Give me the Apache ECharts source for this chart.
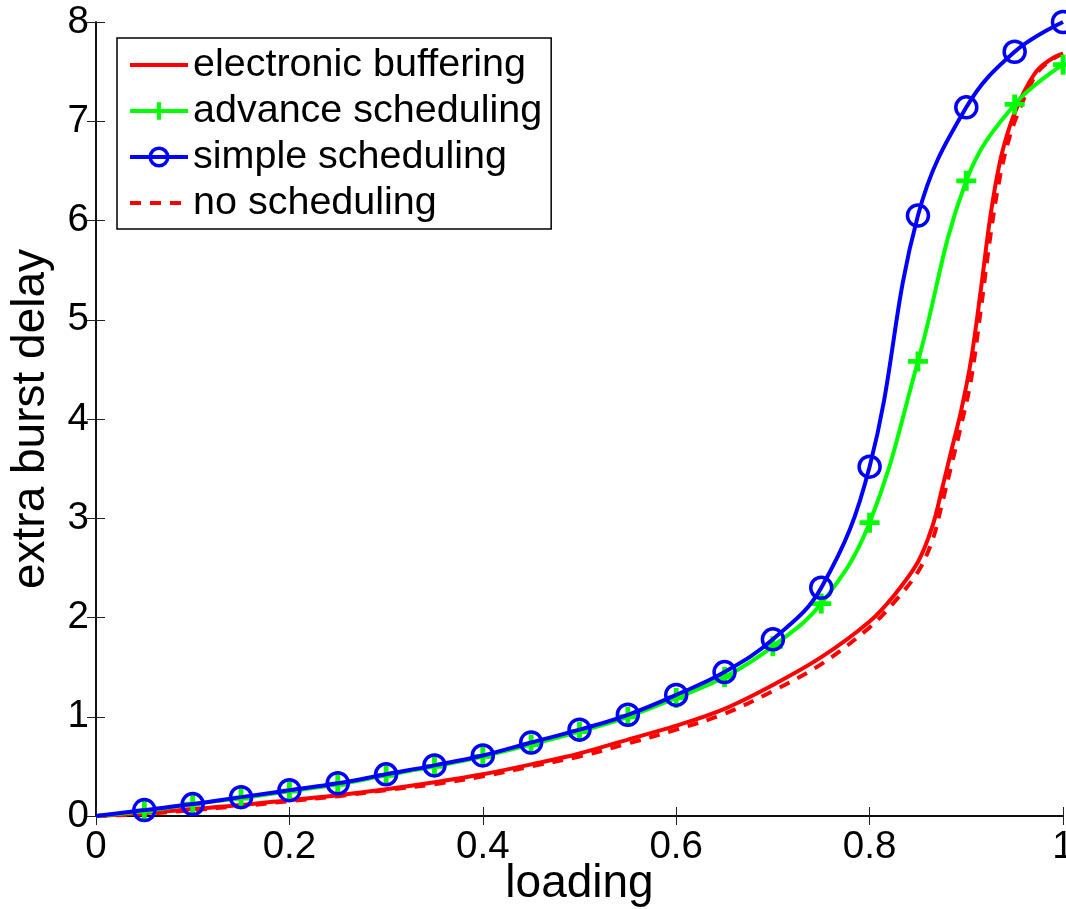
<!DOCTYPE html>
<html>
<head>
<meta charset="utf-8">
<script src="https://cdn.jsdelivr.net/npm/echarts@6/dist/echarts.min.js"></script>
<style>
html,body{margin:0;padding:0;background:#fff;}
#chart{width:1066px;height:909px;}
</style>
</head>
<body>
<div id="chart"></div>
<script>
// ---- data ----
const seriesNames = ['electronic buffering', 'advance scheduling', 'simple scheduling', 'no scheduling'];
const xTicks = [0, 0.2, 0.4, 0.6, 0.8, 1];
const yTicks = [0, 1, 2, 3, 4, 5, 6, 7, 8];

// marker loadings (0.05 .. 1.0)
const markerX = [0.05, 0.10, 0.15, 0.20, 0.25, 0.30, 0.35, 0.40, 0.45, 0.50,
                 0.55, 0.60, 0.65, 0.70, 0.75, 0.80, 0.85, 0.90, 0.95, 1.00];
const advanceY = [0.05, 0.12, 0.18, 0.25, 0.32, 0.41, 0.50, 0.60, 0.72, 0.85,
                  1.00, 1.19, 1.40, 1.71, 2.14, 2.955, 4.58, 6.40, 7.17, 7.57];
const simpleY  = [0.06, 0.12, 0.19, 0.26, 0.33, 0.42, 0.51, 0.61, 0.74, 0.87,
                  1.02, 1.22, 1.45, 1.78, 2.30, 3.52, 6.05, 7.14, 7.70, 8.00];

// red curves (no markers)
const electronicX = [0, 0.05, 0.1, 0.15, 0.2, 0.25, 0.3, 0.35, 0.4, 0.45, 0.5, 0.55, 0.6, 0.65, 0.7, 0.75,
                     0.8, 0.825, 0.85, 0.865, 0.875, 0.885, 0.895, 0.905, 0.915, 0.925, 0.935, 0.945,
                     0.955, 0.965, 0.975, 0.99, 1.0];
const electronicY = [0, 0.03, 0.07, 0.11, 0.16, 0.21, 0.27, 0.34, 0.42, 0.52, 0.63, 0.77, 0.91, 1.08, 1.32, 1.60,
                     1.96, 2.22, 2.56, 2.92, 3.30, 3.70, 4.10, 4.60, 5.30, 6.05, 6.60, 6.95,
                     7.20, 7.39, 7.53, 7.64, 7.68];
const noSchedY    = [0, 0.02, 0.06, 0.10, 0.15, 0.20, 0.26, 0.32, 0.40, 0.50, 0.60, 0.73, 0.87, 1.03, 1.26, 1.53,
                     1.90, 2.15, 2.46, 2.78, 3.15, 3.55, 3.95, 4.40, 5.10, 5.85, 6.45, 6.85,
                     7.12, 7.34, 7.51, 7.63, 7.68];

// ---- build option ----
const RED = '#ff0000', GREEN = '#00ff00', BLUE = '#0000ff';
const FONT = 'Liberation Sans, Arial, Helvetica, sans-serif';
const plusPath = 'path://M9.5,0h6v9.5h9.5v6h-9.5v9.5h-6v-9.5h-9.5v-6h9.5z';

function pairs(xs, ys) { return xs.map((x, i) => [x, ys[i]]); }
function withOrigin(xs, ys) {
  return [{ value: [0, 0], symbol: 'none' }].concat(pairs(xs, ys));
}

const chart = echarts.init(document.getElementById('chart'), null, { renderer: 'canvas' });

const axisCommon = {
  type: 'value',
  axisLine: { show: true, lineStyle: { color: '#000', width: 1.5 } },
  axisTick: { show: true, inside: true, length: 9, lineStyle: { color: '#222', width: 1 } },
  splitLine: { show: false },
};

const option = {
  backgroundColor: '#fff',
  animation: false,
  grid: { left: 96, top: 22, right: 3, bottom: 93, containLabel: false, outerBoundsMode: 'none' },
  legend: {
    orient: 'vertical',
    left: 117, top: 38,
    padding: [4, 9, 3, 11],
    itemGap: 0,
    itemWidth: 58, itemHeight: 22,
    backgroundColor: '#fff',
    borderColor: '#000', borderWidth: 1.5, borderRadius: 0,
    lineStyle: { width: 4 },
    textStyle: { fontFamily: FONT, fontSize: 39.5, color: '#000', lineHeight: 46 },
    data: [
      { name: seriesNames[0], itemStyle: { color: 'rgba(0,0,0,0)', borderWidth: 0 } },
      { name: seriesNames[1] },
      { name: seriesNames[2], itemStyle: { color: 'rgba(0,0,0,0)', borderColor: BLUE, borderWidth: 3.5 } },
      { name: seriesNames[3], itemStyle: { color: 'rgba(0,0,0,0)', borderWidth: 0 } },
    ],
  },
  xAxis: [
    Object.assign({}, axisCommon, {
      min: 0, max: 1, interval: 0.2, position: 'bottom',
      axisLabel: { fontFamily: FONT, fontSize: 38.5, color: '#000', margin: 12,
        formatter: v => xTicks.includes(+v.toFixed(2)) ? String(+v.toFixed(2)) : '' },
      name: 'loading', nameLocation: 'middle', nameGap: 45, nameMoveOverlap: false,
      nameTextStyle: { fontFamily: FONT, fontSize: 46, color: '#000' },
    }),
    Object.assign({}, axisCommon, {
      min: 0, max: 1, interval: 0.2, position: 'top', axisLabel: { show: false },
    }),
  ],
  yAxis: [
    Object.assign({}, axisCommon, {
      min: 0, max: 8, interval: 1, position: 'left',
      axisLabel: { fontFamily: FONT, fontSize: 38.5, color: '#000', margin: 7,
        formatter: v => yTicks.includes(v) ? String(v) : '' },
      name: 'extra burst delay', nameLocation: 'middle', nameGap: 42, nameMoveOverlap: false,
      nameTextStyle: { fontFamily: FONT, fontSize: 46, color: '#000' },
    }),
    Object.assign({}, axisCommon, {
      min: 0, max: 8, interval: 1, position: 'right', axisLabel: { show: false },
    }),
  ],
  series: [
    {
      name: seriesNames[0], type: 'line', smooth: 0.35,
      data: pairs(electronicX, electronicY),
      showSymbol: false, symbol: 'none',
      lineStyle: { color: RED, width: 4 }, itemStyle: { color: RED },
      z: 2,
    },
    {
      name: seriesNames[3], type: 'line', smooth: 0.35,
      data: pairs(electronicX, noSchedY),
      showSymbol: false, symbol: 'none',
      lineStyle: { color: RED, width: 4, type: [11, 9] }, itemStyle: { color: RED },
      z: 1,
    },
    {
      name: seriesNames[1], type: 'line', smooth: 0.4,
      data: withOrigin(markerX, advanceY),
      symbol: plusPath, symbolSize: 20, showAllSymbol: true,
      lineStyle: { color: GREEN, width: 4 },
      itemStyle: { color: GREEN, borderWidth: 0 },
      z: 3,
    },
    {
      name: seriesNames[2], type: 'line', smooth: 0.4,
      data: withOrigin(markerX, simpleY),
      symbol: 'circle', symbolSize: 21, showAllSymbol: true,
      lineStyle: { color: BLUE, width: 4 },
      itemStyle: { color: 'rgba(0,0,0,0)', borderColor: BLUE, borderWidth: 3.5 },
      z: 4,
    },
  ],
};
chart.setOption(option);
</script>
</body>
</html>
